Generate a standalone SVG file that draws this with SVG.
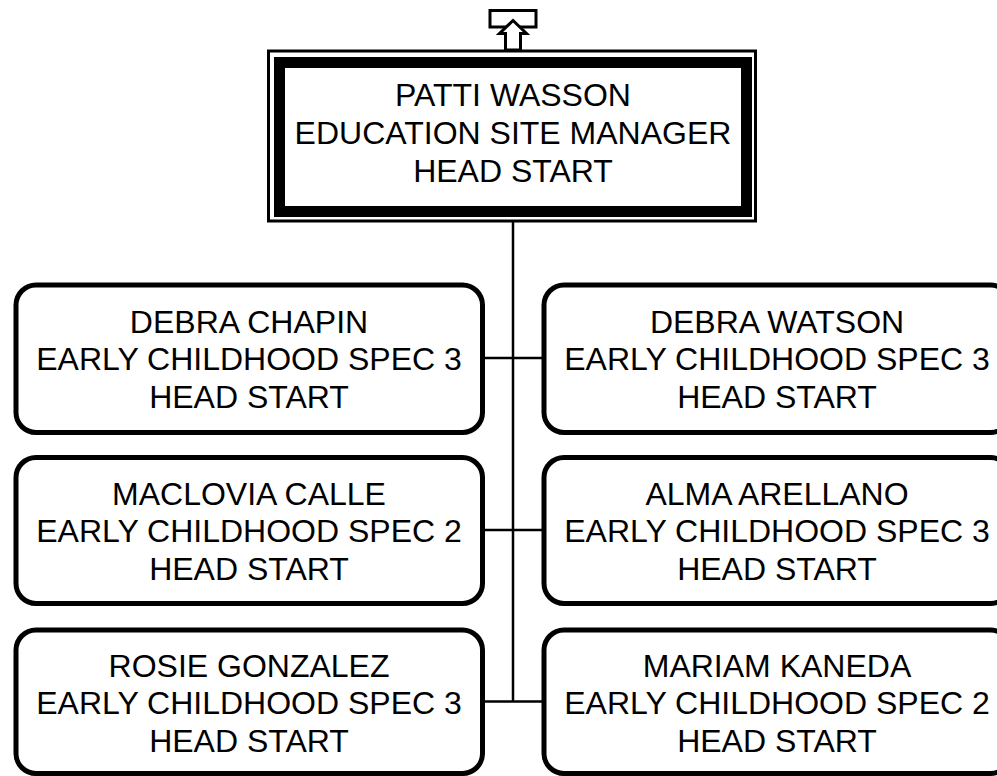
<svg xmlns="http://www.w3.org/2000/svg" width="997" height="776" viewBox="0 0 997 776">
<style>
.box{fill:#fff;stroke:#000;stroke-width:5}
.t{font-family:"Liberation Sans",Arial,sans-serif;font-size:32px;fill:#000;text-anchor:middle}
.c{stroke:#000;stroke-width:2.5;fill:none}
</style>
<rect width="997" height="776" fill="#fff"/>
<g id="connectors">
<line class="c" x1="513" y1="221" x2="513" y2="701.5"/>
<line class="c" x1="482" y1="358" x2="544" y2="358"/>
<line class="c" x1="482" y1="530" x2="544" y2="530"/>
<line class="c" x1="482" y1="701.5" x2="544" y2="701.5"/>
</g>
<g id="icon">
<rect x="490" y="10.5" width="46" height="16.5" fill="#fff" stroke="#000" stroke-width="3"/>
<polygon points="513,20.5 499.5,33.5 505.5,33.5 505.5,50 520.5,50 520.5,33.5 526.5,33.5" fill="#fff" stroke="#000" stroke-width="3" stroke-linejoin="miter"/>
</g>
<g id="n0">
<rect x="268.5" y="51" width="487" height="170" fill="#fff" stroke="#000" stroke-width="3"/>
<rect x="279.5" y="62.5" width="467" height="149" fill="#fff" stroke="#000" stroke-width="11"/>
<text class="t" x="513" y="106">PATTI WASSON</text>
<text class="t" x="513" y="144">EDUCATION SITE MANAGER</text>
<text class="t" x="513" y="182">HEAD START</text>
</g>
<g id="n1">
<rect class="box" x="16" y="285" width="466.5" height="147.5" rx="20"/>
<text class="t" x="249" y="333">DEBRA CHAPIN</text>
<text class="t" x="249" y="370">EARLY CHILDHOOD SPEC 3</text>
<text class="t" x="249" y="408">HEAD START</text>
</g>
<g id="n2">
<rect class="box" x="544" y="285" width="466.5" height="147.5" rx="20"/>
<text class="t" x="777" y="333">DEBRA WATSON</text>
<text class="t" x="777" y="370">EARLY CHILDHOOD SPEC 3</text>
<text class="t" x="777" y="408">HEAD START</text>
</g>
<g id="n3">
<rect class="box" x="16" y="457.5" width="466.5" height="146" rx="20"/>
<text class="t" x="249" y="505">MACLOVIA CALLE</text>
<text class="t" x="249" y="542">EARLY CHILDHOOD SPEC 2</text>
<text class="t" x="249" y="580">HEAD START</text>
</g>
<g id="n4">
<rect class="box" x="544" y="457.5" width="466.5" height="146" rx="20"/>
<text class="t" x="777" y="505">ALMA ARELLANO</text>
<text class="t" x="777" y="542">EARLY CHILDHOOD SPEC 3</text>
<text class="t" x="777" y="580">HEAD START</text>
</g>
<g id="n5">
<rect class="box" x="16" y="630" width="466.5" height="143.5" rx="20"/>
<text class="t" x="249" y="677">ROSIE GONZALEZ</text>
<text class="t" x="249" y="714">EARLY CHILDHOOD SPEC 3</text>
<text class="t" x="249" y="752">HEAD START</text>
</g>
<g id="n6">
<rect class="box" x="544" y="630" width="466.5" height="143.5" rx="20"/>
<text class="t" x="777" y="677">MARIAM KANEDA</text>
<text class="t" x="777" y="714">EARLY CHILDHOOD SPEC 2</text>
<text class="t" x="777" y="752">HEAD START</text>
</g>
</svg>
